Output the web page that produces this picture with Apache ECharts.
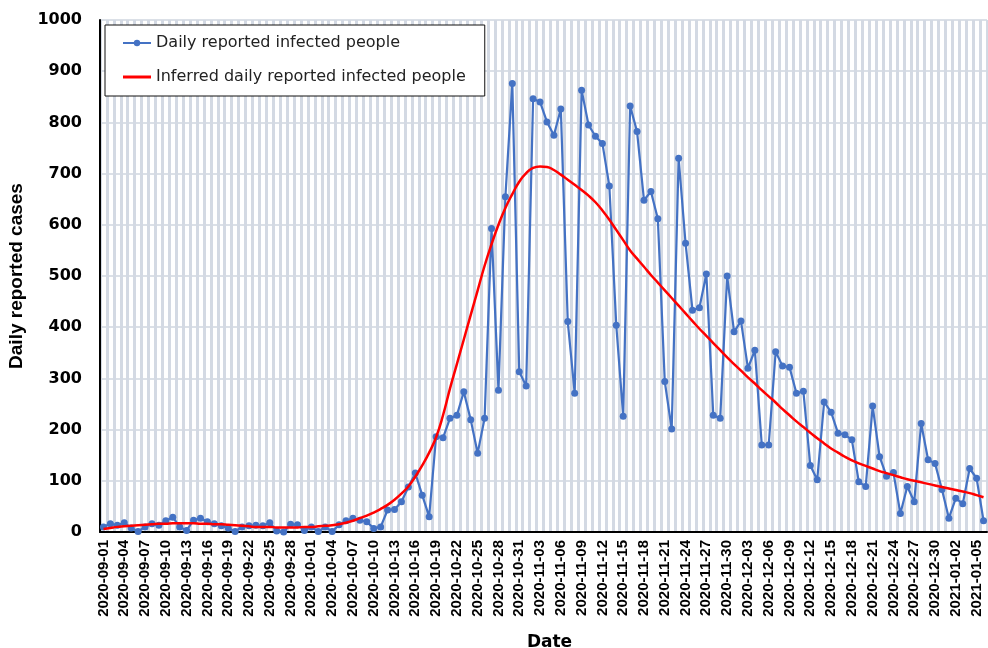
<!DOCTYPE html>
<html>
<head>
<meta charset="utf-8">
<script src="https://cdn.jsdelivr.net/npm/echarts@6/dist/echarts.min.js"></script>
<style>
  html, body { margin: 0; padding: 0; background: #fff; }
  #chart { width: 988px; height: 648px; }
</style>
</head>
<body>
<div id="chart"></div>
<script>
// Days from 2020-09-01 to 2021-01-06
const dates = [
  '2020-09-01','2020-09-02','2020-09-03','2020-09-04','2020-09-05','2020-09-06','2020-09-07','2020-09-08','2020-09-09','2020-09-10',
  '2020-09-11','2020-09-12','2020-09-13','2020-09-14','2020-09-15','2020-09-16','2020-09-17','2020-09-18','2020-09-19','2020-09-20',
  '2020-09-21','2020-09-22','2020-09-23','2020-09-24','2020-09-25','2020-09-26','2020-09-27','2020-09-28','2020-09-29','2020-09-30',
  '2020-10-01','2020-10-02','2020-10-03','2020-10-04','2020-10-05','2020-10-06','2020-10-07','2020-10-08','2020-10-09','2020-10-10',
  '2020-10-11','2020-10-12','2020-10-13','2020-10-14','2020-10-15','2020-10-16','2020-10-17','2020-10-18','2020-10-19','2020-10-20',
  '2020-10-21','2020-10-22','2020-10-23','2020-10-24','2020-10-25','2020-10-26','2020-10-27','2020-10-28','2020-10-29','2020-10-30',
  '2020-10-31','2020-11-01','2020-11-02','2020-11-03','2020-11-04','2020-11-05','2020-11-06','2020-11-07','2020-11-08','2020-11-09',
  '2020-11-10','2020-11-11','2020-11-12','2020-11-13','2020-11-14','2020-11-15','2020-11-16','2020-11-17','2020-11-18','2020-11-19',
  '2020-11-20','2020-11-21','2020-11-22','2020-11-23','2020-11-24','2020-11-25','2020-11-26','2020-11-27','2020-11-28','2020-11-29',
  '2020-11-30','2020-12-01','2020-12-02','2020-12-03','2020-12-04','2020-12-05','2020-12-06','2020-12-07','2020-12-08','2020-12-09',
  '2020-12-10','2020-12-11','2020-12-12','2020-12-13','2020-12-14','2020-12-15','2020-12-16','2020-12-17','2020-12-18','2020-12-19',
  '2020-12-20','2020-12-21','2020-12-22','2020-12-23','2020-12-24','2020-12-25','2020-12-26','2020-12-27','2020-12-28','2020-12-29',
  '2020-12-30','2020-12-31','2021-01-01','2021-01-02','2021-01-03','2021-01-04','2021-01-05','2021-01-06'
];

// Daily reported infected people
const reported = [
  10, 16, 13, 18, 8, 1, 10, 16, 13, 22,
  29, 10, 3, 23, 27, 20, 16, 12, 8, 1,
  10, 12, 13, 12, 18, 2, 0, 15, 14, 3,
  10, 1, 10, 1, 14, 22, 27, 23, 20, 7,
  10, 43, 44, 59, 88, 115, 72, 30, 186, 184,
  222, 228, 274, 219, 154, 222, 593, 277, 655, 876,
  313, 285, 846, 840, 801, 775, 826, 411, 271, 863,
  795, 773, 759, 676, 404, 226, 832, 782, 648, 665,
  612, 294, 201, 730, 564, 433, 438, 504, 228, 222,
  500, 391, 412, 320, 355, 170, 170, 352, 324, 322,
  271, 275, 130, 102, 254, 234, 193, 190, 180, 98,
  89, 246, 147, 109, 116, 36, 89, 59, 212, 141,
  134, 83, 27, 66, 55, 124, 105, 22
];

// Inferred daily reported infected people
const inferred = [
  6, 8, 10, 11, 12, 13, 14, 15, 16, 16,
  17, 17, 17, 17, 16, 16, 15, 15, 14, 13,
  12, 11, 10, 10, 10, 9, 9, 9, 9, 10,
  10, 11, 12, 13, 15, 18, 22, 27, 32, 38,
  45, 53, 63, 75, 89, 108, 130, 155, 185, 228,
  280, 328, 376, 424, 472, 520, 562, 600, 633, 660,
  684, 701, 711, 714, 713, 707, 698, 688, 678, 668,
  657, 644, 628, 610, 590, 570, 550, 534, 518, 502,
  487, 472, 457, 442, 427, 412, 397, 383, 369, 355,
  341, 328, 315, 302, 290, 277, 265, 253, 240, 228,
  216, 205, 194, 183, 173, 163, 155, 147, 140, 134,
  129, 124, 119, 115, 111, 107, 103, 100, 97, 94,
  91, 88, 85, 82, 79, 76, 72, 68
];

const yTicks = { min: 0, max: 1000, step: 100 };

const seriesNames = ['Daily reported infected people', 'Inferred daily reported infected people'];

const chart = echarts.init(document.getElementById('chart'), null, { renderer: 'canvas' });

chart.setOption({
  animation: false,
  backgroundColor: '#ffffff',
  grid: {
    left: 100, right: 1, top: 20, bottom: 116,
    outerBoundsMode: 'none',
    containLabel: false,
    show: true, borderColor: '#222', borderWidth: 1, backgroundColor: 'transparent'
  },
  legend: {
    orient: 'vertical',
    left: 105, top: 25,
    padding: [10, 19, 11, 17],
    itemGap: 18,
    itemWidth: 28, itemHeight: 8,
    backgroundColor: '#ffffff',
    borderColor: '#111', borderWidth: 1, borderRadius: 0,
    textStyle: { fontFamily: 'DejaVu Sans, sans-serif', fontSize: 16, color: '#222' },
    data: [
      { name: seriesNames[0] },
      { name: seriesNames[1], icon: 'path://M0,0H28V3H0Z' }
    ]
  },
  xAxis: {
    type: 'category',
    data: dates,
    boundaryGap: true,
    name: 'Date',
    nameLocation: 'middle',
    nameGap: 102,
    nameTextStyle: {
      fontFamily: 'DejaVu Sans, sans-serif', fontSize: 17, fontWeight: 'bold', color: '#000',
      padding: [0, 0, 0, 12]
    },
    axisLine: { show: true, lineStyle: { color: '#000', width: 2 } },
    axisTick: { show: false },
    axisLabel: {
      interval: 2, rotate: 90, margin: 8,
      fontFamily: 'Liberation Sans, Arial, sans-serif', fontSize: 15, fontWeight: 'bold', color: '#000'
    },
    splitLine: { show: true, interval: 0, lineStyle: { color: '#d3d9e3', width: 3 } }
  },
  yAxis: {
    type: 'value',
    min: yTicks.min, max: yTicks.max, interval: yTicks.step,
    name: 'Daily reported cases',
    nameLocation: 'middle',
    nameGap: 73,
    nameTextStyle: { fontFamily: 'Liberation Sans, Arial, sans-serif', fontSize: 19, fontWeight: 'bold', color: '#000' },
    axisLine: { show: true, lineStyle: { color: '#000', width: 2 } },
    axisTick: { show: false },
    axisLabel: {
      margin: 18,
      formatter: function (v) { return String(v); },
      fontFamily: 'DejaVu Sans, sans-serif', fontSize: 16, fontWeight: 'bold', color: '#000'
    },
    splitLine: { show: true, lineStyle: { color: '#dbe0e7', width: 2 } }
  },
  series: [
    {
      name: seriesNames[0],
      type: 'line',
      data: reported,
      symbol: 'circle',
      symbolSize: 7,
      showAllSymbol: true,
      itemStyle: { color: '#4472C4' },
      lineStyle: { color: '#4472C4', width: 2.2 },
      z: 3
    },
    {
      name: seriesNames[1],
      type: 'line',
      data: inferred,
      symbol: 'none',
      smooth: true,
      itemStyle: { color: '#ff0000' },
      lineStyle: { color: '#ff0000', width: 2.5 },
      z: 4
    }
  ]
});
</script>
</body>
</html>
